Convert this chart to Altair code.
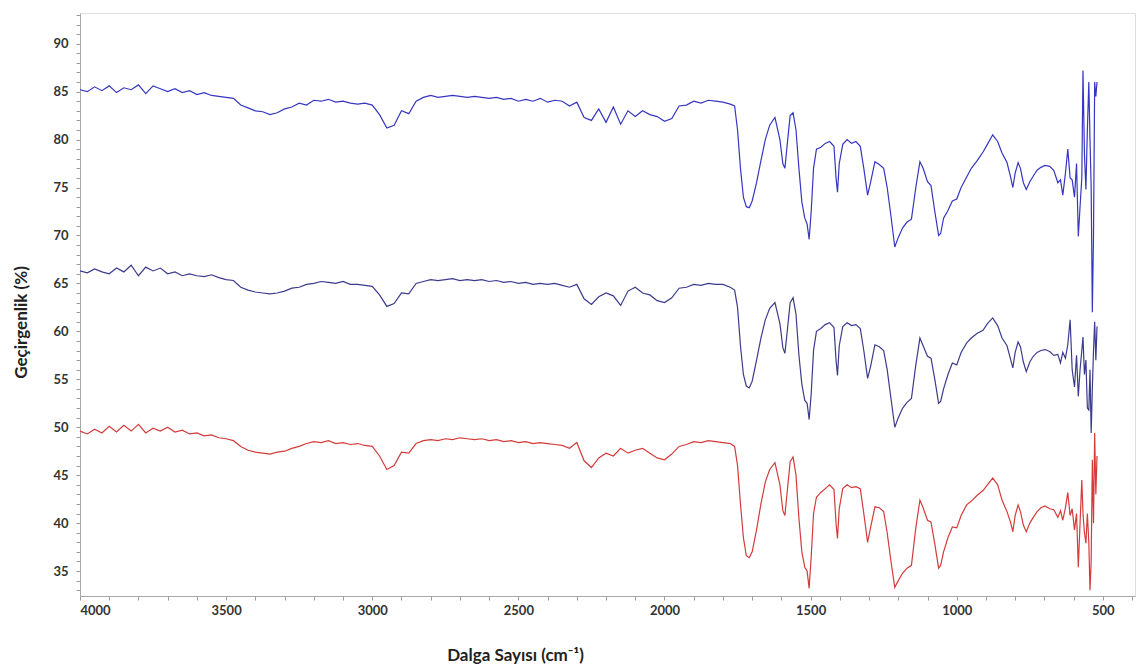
import altair as alt
import pandas as pd

# Wavenumbers (cm-1), high-frequency region
LEFT_WN = [
    4000, 3975, 3950, 3925, 3900, 3875, 3850, 3825, 3800, 3775,
    3750, 3725, 3700, 3675, 3650, 3625, 3600, 3575, 3550, 3525,
    3500, 3475, 3450, 3425, 3400, 3375, 3350, 3325, 3300, 3275,
    3250, 3225, 3200, 3175, 3150, 3125, 3100, 3075, 3050, 3025,
    3000, 2975, 2950, 2925, 2900, 2875, 2850, 2825, 2800, 2775,
    2750, 2725, 2700, 2675, 2650, 2625, 2600, 2575, 2550, 2525,
    2500, 2475, 2450, 2425, 2400, 2375, 2350, 2325, 2300, 2275,
    2250, 2225, 2200, 2175, 2150, 2125, 2100, 2075, 2050, 2025,
    2000, 1975, 1950, 1925, 1900, 1875, 1850, 1825, 1800, 1775,
]
# Wavenumbers (cm-1), fingerprint region
FP_WN = [
    1760, 1750, 1740, 1730, 1720, 1710, 1700, 1685, 1670, 1655,
    1640, 1622, 1605, 1595, 1588, 1580, 1570, 1560, 1550, 1540,
    1530, 1520, 1512, 1505, 1498, 1490, 1480, 1465, 1450, 1435,
    1420, 1413, 1408, 1402, 1390, 1375, 1360, 1345, 1330, 1318,
    1305, 1295, 1280, 1265, 1250, 1238, 1225, 1212, 1200, 1185,
    1170, 1155, 1140, 1126, 1115, 1100, 1088, 1075, 1062, 1055,
    1045, 1030, 1015, 1000, 985, 966, 950, 930, 910, 895,
    877, 860, 845, 828, 815, 808, 800, 790, 782, 772,
    762, 750, 738, 725, 712, 698, 682, 668, 654, 645,
    637, 628, 620, 612, 605, 597, 590, 584, 578, 572,
    568, 563, 558, 553, 548, 544, 540, 536, 532, 528,
    524, 520,
]

TOP_LEFT = [
    85.2, 85.0, 85.5, 85.1, 85.6, 84.9, 85.4, 85.2, 85.7, 84.8,
    85.6, 85.3, 85.0, 85.3, 84.9, 85.1, 84.7, 84.9, 84.6, 84.5,
    84.4, 84.3, 83.6, 83.3, 83.0, 82.9, 82.6, 82.8, 83.2, 83.4,
    83.8, 83.6, 84.1, 84.0, 84.2, 83.9, 84.0, 83.8, 83.7, 83.8,
    83.6, 82.6, 81.2, 81.5, 83.0, 82.7, 84.0, 84.4, 84.6, 84.4,
    84.5, 84.6, 84.5, 84.4, 84.5, 84.4, 84.3, 84.4, 84.2, 84.3,
    84.0, 84.2, 84.0, 84.3, 83.9, 84.1, 84.0, 83.5, 83.9, 82.3,
    82.0, 83.2, 81.8, 83.4, 81.6, 83.0, 82.4, 83.0, 82.6, 82.4,
    81.9, 82.2, 83.5, 83.6, 84.0, 83.8, 84.1, 84.0, 83.9, 83.7,
]
TOP_FP = [
    83.5, 81.0, 77.0, 74.0, 73.0, 72.9, 73.6, 75.5, 77.8, 80.0,
    81.5, 82.3, 80.0, 77.5, 77.0, 79.5, 82.5, 82.8, 81.0, 77.0,
    73.5, 71.8, 71.2, 69.6, 72.5, 77.0, 79.0, 79.2, 79.6, 79.8,
    79.3, 76.0, 74.5, 77.5, 79.5, 80.0, 79.6, 79.8, 79.3, 77.0,
    74.2, 75.5, 77.7, 77.4, 77.0, 75.0, 72.0, 68.8, 69.8, 70.8,
    71.4, 71.7, 75.0, 77.7, 77.0, 75.6, 75.2, 72.5, 70.0, 70.2,
    71.8, 72.6, 73.6, 73.8, 75.0, 76.1, 77.0, 77.8, 78.7, 79.5,
    80.5, 79.8, 78.6, 77.6, 76.0, 75.0, 76.5, 77.6, 77.0, 75.5,
    74.8, 75.6, 76.2, 76.8, 77.1, 77.3, 77.2, 76.8, 75.5, 75.8,
    74.2, 76.5, 79.0, 76.0, 75.8, 74.0, 77.5, 69.9, 73.0, 76.0,
    87.2, 78.5, 74.8, 81.0, 86.0, 80.0, 75.0, 62.0, 70.0, 86.0,
    84.5, 86.0,
]

MID_LEFT = [
    66.3, 66.1, 66.5, 66.2, 66.0, 66.6, 66.2, 66.9, 65.8, 66.7,
    66.3, 66.6, 66.0, 66.2, 65.8, 66.0, 65.8, 65.7, 65.9, 65.6,
    65.4, 65.3, 64.6, 64.3, 64.1, 64.0, 63.9, 64.0, 64.2, 64.5,
    64.6, 64.9, 65.0, 65.2, 65.1, 65.0, 65.2, 64.9, 64.9, 64.8,
    64.7, 63.8, 62.6, 62.9, 64.0, 63.9, 65.0, 65.2, 65.4, 65.3,
    65.4, 65.5, 65.3, 65.4, 65.3, 65.4, 65.2, 65.3, 65.1, 65.2,
    65.0, 65.1, 64.9, 65.0, 64.9, 65.0, 64.8, 64.6, 64.9, 63.4,
    62.8, 63.6, 64.0, 63.7, 62.7, 64.2, 64.6, 64.0, 63.8, 63.2,
    63.0, 63.5, 64.5, 64.6, 64.9, 64.8, 65.0, 64.9, 64.9, 64.6,
]
MID_FP = [
    64.3, 62.5, 58.5, 55.5, 54.3, 54.1, 54.8, 57.0, 59.3, 61.2,
    62.4, 63.0, 60.8, 58.3, 57.7, 60.0, 63.0, 63.5, 61.8, 57.5,
    54.5, 52.8, 52.5, 50.8, 53.5, 58.0, 60.0, 60.3, 60.7, 60.9,
    60.4, 57.0, 55.4, 58.5, 60.5, 60.9, 60.6, 60.7, 60.3, 58.0,
    55.1, 56.3, 58.6, 58.4, 58.0, 56.0, 53.0, 50.0, 51.0, 52.0,
    52.6, 53.0, 56.5, 59.3, 58.5, 57.4, 57.2, 55.0, 52.5, 52.7,
    54.0, 55.5, 56.7, 56.5, 57.8, 58.8, 59.3, 59.8, 60.1, 60.8,
    61.4, 60.6, 59.3, 58.5, 57.0, 56.2, 57.8, 58.9, 58.4, 56.8,
    55.8, 56.8, 57.4, 57.8, 58.0, 58.1, 57.9, 57.5, 57.6, 56.7,
    57.8, 57.2, 58.6, 61.2, 56.0, 54.2, 57.5, 53.2, 56.0, 58.0,
    59.4, 55.5, 57.0, 52.0, 51.8, 56.0, 49.4, 54.0, 58.0, 61.0,
    57.0, 60.5,
]

RED_LEFT = [
    49.6, 49.3, 49.8, 49.4, 50.1, 49.5, 50.2, 49.6, 50.3, 49.4,
    49.9, 49.6, 50.0, 49.5, 49.7, 49.3, 49.4, 49.1, 49.2, 48.9,
    48.8, 48.6, 48.0, 47.6, 47.4, 47.3, 47.2, 47.4, 47.5, 47.8,
    48.0, 48.3, 48.5, 48.4, 48.6, 48.3, 48.4, 48.2, 48.3, 48.1,
    48.0, 47.0, 45.6, 46.0, 47.4, 47.3, 48.3, 48.6, 48.7, 48.6,
    48.8, 48.7, 48.9, 48.8, 48.7, 48.8, 48.6, 48.7, 48.5, 48.6,
    48.4, 48.5, 48.3, 48.4, 48.3, 48.2, 48.1, 47.8, 48.4, 46.5,
    45.8, 46.8, 47.3, 47.0, 47.8, 47.3, 47.6, 47.8, 47.3, 46.8,
    46.6, 47.2, 48.0, 48.2, 48.5, 48.4, 48.6, 48.5, 48.4, 48.3,
]
RED_FP = [
    48.0, 46.0, 42.0, 38.5, 36.6, 36.4, 37.0, 39.3, 42.0, 44.3,
    45.6, 46.3, 44.0, 41.3, 40.8, 43.3, 46.4, 46.9, 45.0, 40.5,
    37.0, 35.4, 35.0, 33.2, 36.5, 41.0, 42.7, 43.2, 43.6, 44.0,
    43.5, 40.0, 38.4, 41.5, 43.6, 44.0, 43.7, 43.8, 43.6, 41.0,
    38.0, 39.5, 41.7, 41.6, 41.2, 39.0, 36.0, 33.3, 34.0, 34.8,
    35.3, 35.6, 39.5, 42.4, 41.6, 40.3, 40.1, 37.8, 35.3, 35.6,
    37.0, 38.5, 39.6, 39.5, 40.8, 41.9, 42.3, 42.9, 43.4, 44.0,
    44.7, 44.0, 42.4, 41.2, 40.0, 39.1, 40.8, 41.9, 41.2, 39.8,
    39.1, 40.0, 40.6, 41.2, 41.6, 41.8, 41.5, 41.4, 40.6, 41.3,
    40.3, 41.6, 43.2, 40.8, 41.5, 39.3, 41.0, 35.4, 40.0, 44.5,
    41.0, 39.0, 37.9, 41.0, 38.0, 33.0, 36.0, 46.6, 40.0, 49.4,
    43.0, 47.0,
]

SERIES = ["A", "B", "C"]
COLORS = ["#3636c2", "#3b3b8e", "#d43b3b"]

X_TICKS = list(range(400, 4001, 100))
Y_TICKS = list(range(33, 94, 1))

wn = LEFT_WN + FP_WN
rows = []
for name, vals in zip(SERIES, [TOP_LEFT + TOP_FP, MID_LEFT + MID_FP, RED_LEFT + RED_FP]):
    for i, (w, v) in enumerate(zip(wn, vals)):
        rows.append({"series": name, "wn": w, "t": v, "i": i})
df = pd.DataFrame(rows)

FONT = "Lato"

chart = (
    alt.Chart(df)
    .mark_line(strokeWidth=1.2, interpolate="linear")
    .encode(
        x=alt.X(
            "wn:Q",
            scale=alt.Scale(domain=[4000, 390], nice=False, zero=False),
            axis=alt.Axis(
                title="Dalga Sayısı (cm⁻¹)",
                values=X_TICKS,
                labelExpr="datum.value % 500 == 0 ? datum.label : ''",
                labelOverlap=False,
                format="d",
                grid=False,
                domainColor="#a8a8a8",
                tickColor="#9a9a9a",
                tickSize=4,
                labelFont=FONT,
                labelFontWeight="bold",
                labelFontSize=13,
                labelColor="#333333",
                labelPadding=4,
                titleFont=FONT,
                titleFontSize=17,
                titleFontWeight="bold",
                titleColor="#222222",
                titlePadding=30,
                titleX=435,
                titleAnchor="start",
                titleAlign="center",
            ),
        ),
        y=alt.Y(
            "t:Q",
            scale=alt.Scale(domain=[32.4, 93.2], nice=False, zero=False),
            axis=alt.Axis(
                title="Geçirgenlik (%)",
                values=Y_TICKS,
                labelExpr="datum.value % 5 == 0 ? datum.label : ''",
                labelOverlap=False,
                grid=False,
                domainColor="#a8a8a8",
                tickColor="#9a9a9a",
                tickSize=4,
                labelFont=FONT,
                labelFontWeight="bold",
                labelFontSize=13,
                labelColor="#333333",
                labelPadding=8,
                titleFont=FONT,
                titleFontSize=17,
                titleFontWeight="bold",
                titleColor="#222222",
                titlePadding=22,
                titleY=309,
                titleAnchor="start",
                titleAlign="center",
            ),
        ),
        color=alt.Color(
            "series:N",
            scale=alt.Scale(domain=SERIES, range=COLORS),
            legend=None,
        ),
        order="i:Q",
        detail="series:N",
    )
    .properties(
        width=1055,
        height=583,
        autosize=alt.AutoSizeParams(type="none"),
        padding={"left": 80, "top": 13, "right": 2, "bottom": 75},
    )
    .configure_view(stroke=None)
    .configure(background="white")
)

chart.save("out.html", embed_options={"renderer": "svg", "actions": False})
